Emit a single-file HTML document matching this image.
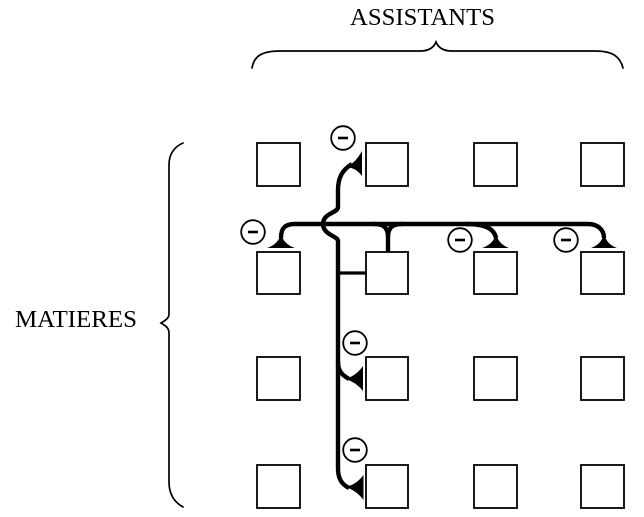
<!DOCTYPE html>
<html>
<head>
<meta charset="utf-8">
<style>
  html, body { margin: 0; padding: 0; background: #fff; }
  svg { display: block; }
  text { font-family: "Liberation Serif", "DejaVu Serif", serif; fill: #000; }
</style>
</head>
<body>
<svg width="644" height="517" viewBox="0 0 644 517" xmlns="http://www.w3.org/2000/svg">
  <rect width="644" height="517" fill="#fff"/>

  <!-- Labels -->
  <text x="350" y="25" font-size="24" textLength="145" lengthAdjust="spacingAndGlyphs">ASSISTANTS</text>
  <text x="15" y="327" font-size="24" textLength="122" lengthAdjust="spacingAndGlyphs">MATIERES</text>

  <!-- Braces -->
  <g fill="none" stroke="#000" stroke-width="1.7" stroke-linecap="round">
    <path d="M252 68 C254 56, 262 51, 280 51 L420 51 C430 51, 434 47, 436 42 C438 47, 442 51, 452 51 L595 51 C612 51, 620 56, 623 68"/>
    <path d="M183 143 C174 147, 169 154, 169 165 L169 314 C169 318, 166 320, 161 323 C166 326, 169 328, 169 333 L169 482 C169 494, 174 502, 183 507"/>
  </g>

  <!-- Boxes -->
  <g fill="#fff" stroke="#000" stroke-width="1.8">
    <rect x="257" y="143" width="43" height="43"/>
    <rect x="366" y="143" width="42" height="43"/>
    <rect x="474" y="143" width="43" height="43"/>
    <rect x="581" y="143" width="43" height="43"/>

    <rect x="257" y="252" width="43" height="42"/>
    <rect x="366" y="252" width="42" height="42"/>
    <rect x="474" y="252" width="43" height="42"/>
    <rect x="581" y="252" width="43" height="42"/>

    <rect x="257" y="357" width="43" height="43"/>
    <rect x="366" y="357" width="42" height="43"/>
    <rect x="474" y="357" width="43" height="43"/>
    <rect x="581" y="357" width="43" height="43"/>

    <rect x="257" y="465" width="43" height="43"/>
    <rect x="366" y="465" width="42" height="43"/>
    <rect x="474" y="465" width="43" height="43"/>
    <rect x="581" y="465" width="43" height="43"/>
  </g>

  <!-- Thick connectors -->
  <g fill="none" stroke="#000" stroke-width="4.4" stroke-linecap="butt">
    <path d="M281 238 C281 228, 285 224, 295 224 L588 224 C598 224, 604 230, 604 238"/>
    <path d="M466 224 C484 224, 494 228, 496 238"/>
    <path d="M374 224 C384 224, 388 228, 388 237 L388 252"/>
    <path d="M402 224 C392 224, 388 228, 388 237"/>
    <path d="M349 488 C341 484, 338 478, 338 468 L338 241 C338 236, 323 235, 323 224 C323 213, 338 213, 338 207 L338 190 C338 178, 342 170, 352 164"/>
    <path d="M349 379 C342 375, 338 371, 338 362"/>
  </g>
  <path d="M338 273 L366 273" stroke="#000" stroke-width="3.2"/>

  <!-- Arrowheads -->
  <g fill="#000" stroke="none">
    <path d="M281 233 Q283 244 295 248 L267 248 Q279 244 281 233 Z"/>
    <path d="M496 233 Q498 244 509 248 L482 248 Q494 244 496 233 Z"/>
    <path d="M604 233 Q606 244 617 248 L591 248 Q602 244 604 233 Z"/>
    <path d="M347 167 Q356 162 362 151 L362 176 Q356 168 347 167 Z"/>
    <path d="M345 379 Q356 376 363 366 L363 391 Q356 382 345 379 Z"/>
    <path d="M345 487 Q356 485 363.5 475 L363.5 500 Q356 490 345 487 Z"/>
  </g>

  <!-- Minus circles -->
  <g fill="#fff" stroke="#000" stroke-width="1.8">
    <circle cx="343" cy="138" r="11.8"/>
    <circle cx="253" cy="232" r="11.8"/>
    <circle cx="460" cy="240" r="11.8"/>
    <circle cx="566" cy="240" r="11.8"/>
    <circle cx="355" cy="343" r="11.8"/>
    <circle cx="355" cy="450" r="11.8"/>
  </g>
  <g stroke="#000" stroke-width="2.6">
    <line x1="338" y1="138" x2="348" y2="138"/>
    <line x1="248" y1="232" x2="258" y2="232"/>
    <line x1="455" y1="240" x2="465" y2="240"/>
    <line x1="561" y1="240" x2="571" y2="240"/>
    <line x1="350" y1="343" x2="360" y2="343"/>
    <line x1="350" y1="450" x2="360" y2="450"/>
  </g>
</svg>
</body>
</html>
